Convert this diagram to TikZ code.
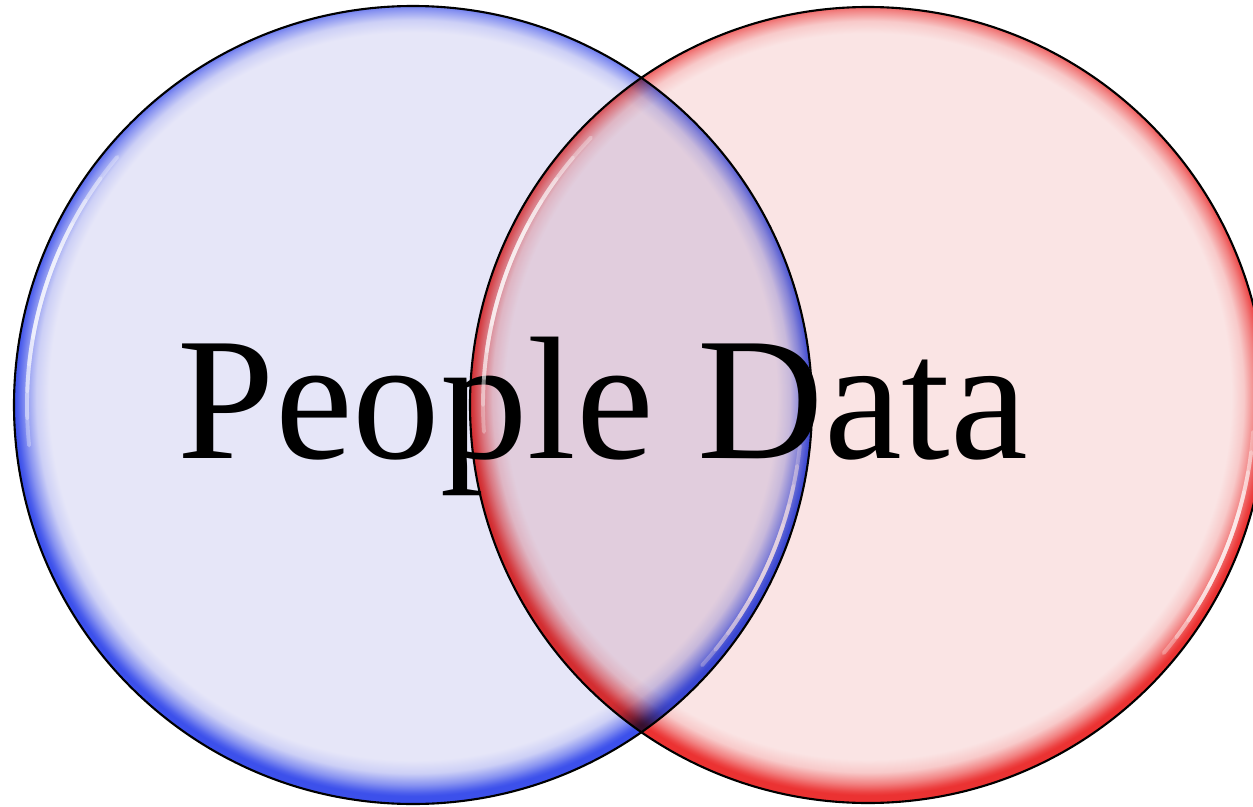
\documentclass[tikz,border=0pt]{standalone}
\usepackage{fontspec}
\setmainfont{Liberation Serif}
\usepackage{xcolor}
\usepackage{tikz}

\definecolor{peoplefill}{RGB}{230,230,248}
\definecolor{peoplerim}{RGB}{60,80,235}
\definecolor{datafill}{RGB}{250,228,228}
\definecolor{datarim}{RGB}{235,50,50}

\pgfdeclareradialshading{peopleshade}{\pgfpoint{0bp}{1bp}}{color(0bp)=(peoplefill); color(22.8bp)=(peoplefill); color(23.6bp)=(peoplerim!15!peoplefill); color(24.3bp)=(peoplerim!55!peoplefill); color(24.8bp)=(peoplerim!90!peoplefill); color(25bp)=(peoplerim); color(50bp)=(peoplerim)}
\pgfdeclareradialshading{datashade}{\pgfpoint{0bp}{1bp}}{color(0bp)=(datafill); color(22.8bp)=(datafill); color(23.6bp)=(datarim!15!datafill); color(24.3bp)=(datarim!55!datafill); color(24.8bp)=(datarim!90!datafill); color(25bp)=(datarim); color(50bp)=(datarim)}

\begin{document}
\begin{tikzpicture}[x=0.02cm, y=0.02cm,
    rim/.style={draw=black, line width=1.2pt},
    glint/.style={draw=white, line width=2.2pt, opacity=0.3, line cap=round}]
    \clip (0,0) rectangle (1253,806);
    \useasboundingbox (0,0) rectangle (1253,806);

    \coordinate (people) at (413,401);
    \coordinate (data) at (868,401);

    % left circle
    \path[shading=peopleshade] (people) circle[radius=399];
    \foreach \k in {0,...,4}{
        \draw[glint, shift={(people)}] (140+4*\k:386) arc[start angle=140+4*\k, end angle=186-4*\k, radius=386];
        \draw[glint, shift={(people)}] (-6-3*\k:389) arc[start angle=-6-3*\k, end angle=-42+3*\k, radius=389];
    }
    \draw[rim] (people) circle[radius=399];

    \node[font=\fontsize{99.6}{100}\selectfont, anchor=base, inner sep=0pt] (label) at (603,348) {People Data};

    % right circle
    \begin{scope}[blend mode=multiply]
        \path[shading=datashade] (data) circle[radius=398];
    \end{scope}
    \foreach \k in {0,...,4}{
        \draw[glint, shift={(data)}] (136+4*\k:385) arc[start angle=136+4*\k, end angle=184-4*\k, radius=385];
        \draw[glint, shift={(data)}] (-4-3*\k:386) arc[start angle=-4-3*\k, end angle=-40+3*\k, radius=386];
    }
    \draw[rim] (data) circle[radius=398];
\end{tikzpicture}
\end{document}
